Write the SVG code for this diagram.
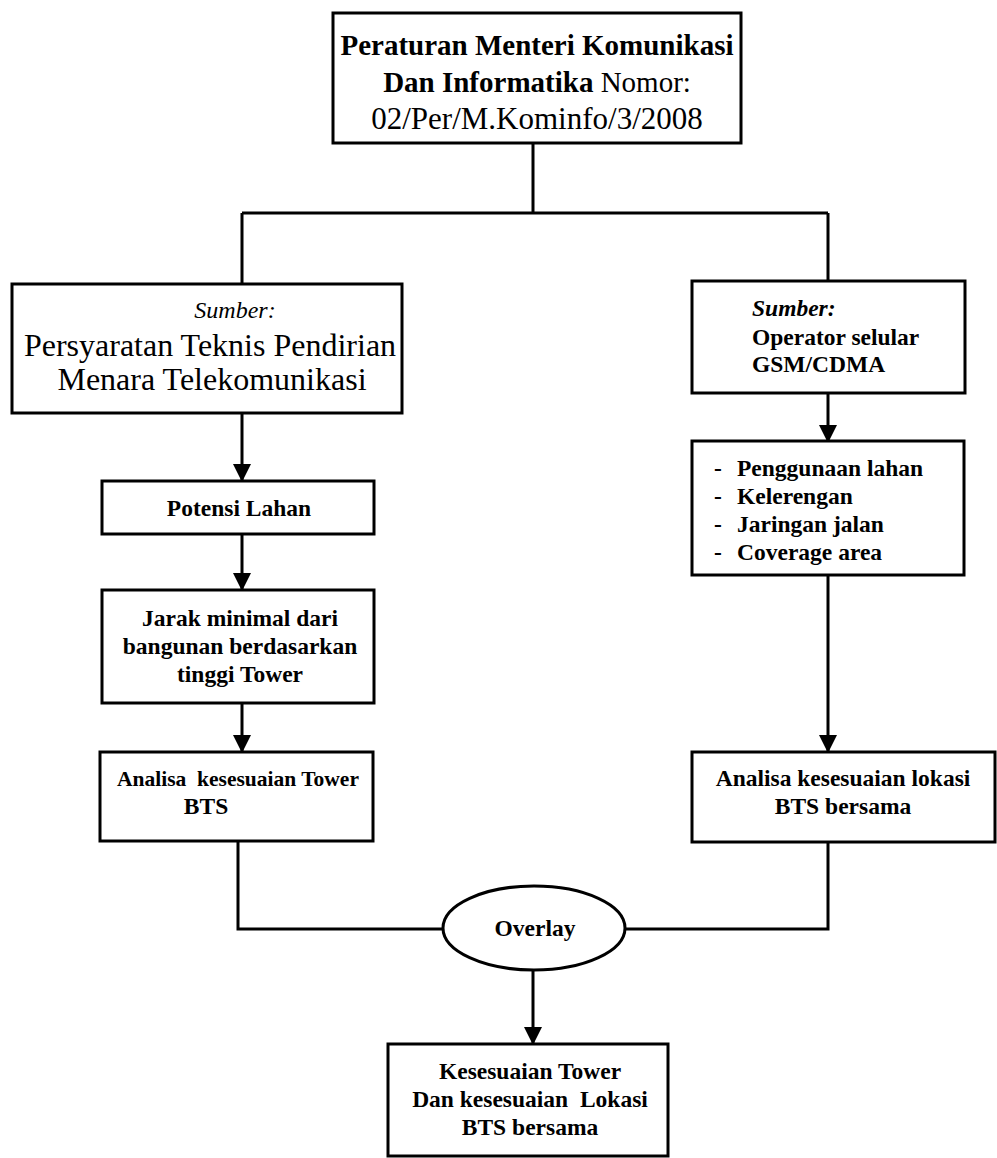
<svg xmlns="http://www.w3.org/2000/svg" width="997" height="1158" viewBox="0 0 997 1158">
  <style>
    .box { fill: #fff; stroke: #000; stroke-width: 3; }
    .line { fill: none; stroke: #000; stroke-width: 3; }
    text { font-family: "Liberation Serif", "Times New Roman", serif; fill: #000; }
    .title { font-size: 29px; }
    .big { font-size: 32px; }
    .mid { font-size: 23.5px; font-weight: bold; }
    .c { text-anchor: middle; }
    .b { font-weight: bold; }
    .i { font-style: italic; }
  </style>
  <defs>
    <marker id="arrow" markerUnits="userSpaceOnUse" markerWidth="18" markerHeight="20" refX="16" refY="9" orient="auto">
      <path d="M0,0 L18,9 L0,18 Z" fill="#000"/>
    </marker>
  </defs>

  <!-- connectors -->
  <g id="connectors">
    <path class="line" d="M533,143 V213 M242,213 H828 M242,213 V284 M828,213 V281"/>
    <path class="line" d="M242,413 V480" marker-end="url(#arrow)"/>
    <path class="line" d="M242,534 V589" marker-end="url(#arrow)"/>
    <path class="line" d="M242,703 V751" marker-end="url(#arrow)"/>
    <path class="line" d="M828,393 V441" marker-end="url(#arrow)"/>
    <path class="line" d="M828,575 V751" marker-end="url(#arrow)"/>
    <path class="line" d="M238,841 V929 H443 M828,842 V929 H625"/>
    <path class="line" d="M533,970 V1043" marker-end="url(#arrow)"/>
  </g>

  <!-- regulation -->
  <g id="regulation">
    <rect class="box" x="333" y="13" width="408" height="130"/>
    <text class="title c b" x="537" y="55">Peraturan Menteri Komunikasi</text>
    <text class="title c" x="537" y="92"><tspan class="b">Dan Informatika</tspan> Nomor:</text>
    <text class="c" x="537" y="129" style="font-size:31px">02/Per/M.Kominfo/3/2008</text>
  </g>

  <!-- left source -->
  <g id="source-technical">
    <rect class="box" x="12" y="284" width="390" height="129"/>
    <text class="c i" x="235" y="318" style="font-size:24px">Sumber:</text>
    <text class="big c" x="210" y="356">Persyaratan Teknis Pendirian</text>
    <text class="big c" x="212" y="390">Menara Telekomunikasi</text>
  </g>

  <!-- right source -->
  <g id="source-operator">
    <rect class="box" x="692" y="281" width="273" height="112"/>
    <text class="mid i" x="752" y="316">Sumber:</text>
    <text class="mid" x="752" y="345">Operator selular</text>
    <text class="mid" x="752" y="372">GSM/CDMA</text>
  </g>

  <g id="land-potential">
    <rect class="box" x="102" y="481" width="272" height="53"/>
    <text class="mid c" x="239" y="516">Potensi Lahan</text>
  </g>

  <g id="criteria">
    <rect class="box" x="692" y="441" width="272" height="134"/>
    <text class="mid" x="714" y="476">-</text>
    <text class="mid" x="737" y="476">Penggunaan lahan</text>
    <text class="mid" x="714" y="504">-</text>
    <text class="mid" x="737" y="504">Kelerengan</text>
    <text class="mid" x="714" y="532">-</text>
    <text class="mid" x="737" y="532">Jaringan jalan</text>
    <text class="mid" x="714" y="560">-</text>
    <text class="mid" x="737" y="560">Coverage area</text>
  </g>

  <g id="min-distance">
    <rect class="box" x="102" y="590" width="272" height="113"/>
    <text class="mid c" x="240" y="626">Jarak minimal dari</text>
    <text class="mid c" x="240" y="654">bangunan berdasarkan</text>
    <text class="mid c" x="240" y="682">tinggi Tower</text>
  </g>

  <g id="tower-analysis">
    <rect class="box" x="100" y="752" width="273" height="89"/>
    <text class="mid c" x="238" y="786" style="font-size:21.5px" xml:space="preserve">Analisa  kesesuaian Tower</text>
    <text class="mid c" x="206" y="814">BTS</text>
  </g>

  <g id="location-analysis">
    <rect class="box" x="692" y="752" width="303" height="90"/>
    <text class="mid c" x="843" y="786">Analisa kesesuaian lokasi</text>
    <text class="mid c" x="843" y="814">BTS bersama</text>
  </g>

  <g id="overlay">
    <ellipse class="box" cx="534" cy="928" rx="91" ry="42"/>
    <text class="mid c" x="535" y="936">Overlay</text>
  </g>

  <g id="result">
    <rect class="box" x="388" y="1044" width="280" height="112"/>
    <text class="mid c" x="530" y="1079">Kesesuaian Tower</text>
    <text class="mid c" x="530" y="1107" xml:space="preserve">Dan kesesuaian  Lokasi</text>
    <text class="mid c" x="530" y="1135">BTS bersama</text>
  </g>
</svg>
